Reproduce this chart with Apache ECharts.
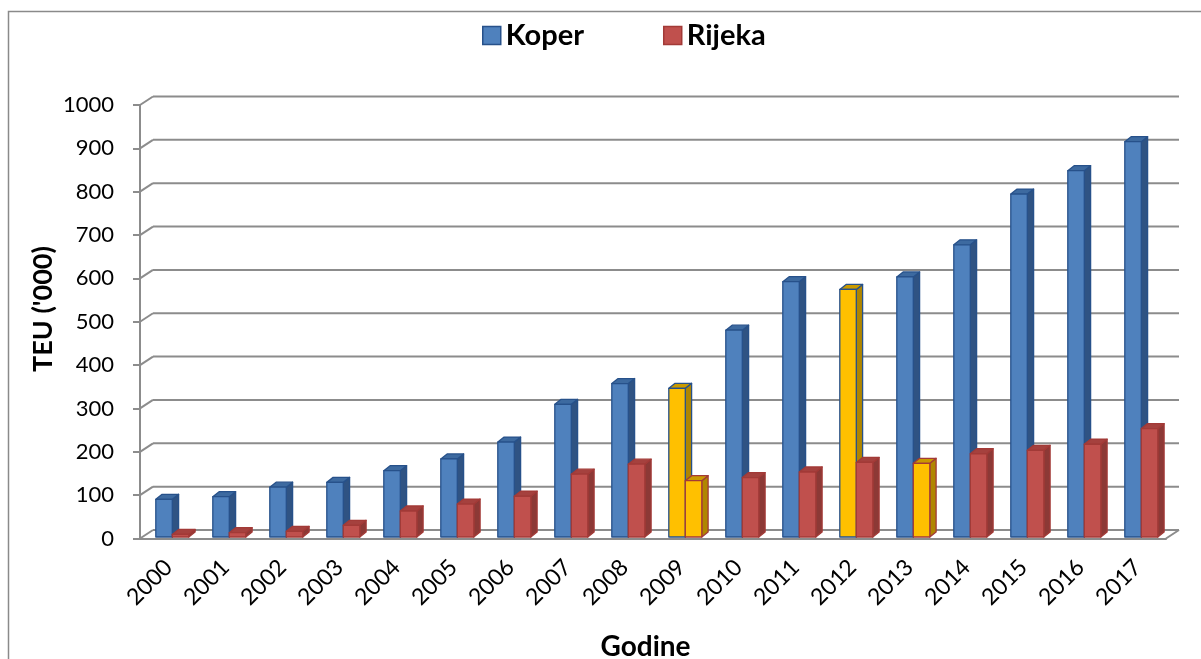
<!DOCTYPE html>
<html>
<head>
<meta charset="utf-8">
<script src="https://cdn.jsdelivr.net/npm/echarts@6/dist/echarts.min.js"></script>
<style>
  html, body { margin: 0; padding: 0; background: #fff; }
  #chart { width: 1201px; height: 659px; }
</style>
</head>
<body>
<div id="chart"></div>
<script>
const years = ['2000', '2001', '2002', '2003', '2004', '2005', '2006', '2007', '2008',
  '2009', '2010', '2011', '2012', '2013', '2014', '2015', '2016', '2017']
const koper = [87, 93, 115, 126, 153, 180, 219, 306, 354, 343, 477, 589, 571, 600, 674, 791, 845, 912]
const rijeka = [6, 10, 13, 27, 60, 76, 94, 145, 168, 130, 137, 150, 172, 170, 192, 200, 214, 250]
// years drawn in yellow
const koperHighlight = ['2009', '2012']
const rijekaHighlight = ['2009', '2013']
const yTicks = [0, 100, 200, 300, 400, 500, 600, 700, 800, 900, 1000]

const FONT = 'Lato'
const DX = 13, DY = -8.5      // depth of the back wall
const BDX = 6.3, BDY = -5     // depth of a bar
const BAR_W = 16.5
const GRID_LINE = '#8c8c8c'

const blue = { front: '#4F81BD', side: '#2F5383', top: '#3D6AA0', border: '#27518A' }
const red = { front: '#C0504D', side: '#8C3936', top: '#A5413E', border: '#A23A37' }
const yellow = { front: '#FFC000', side: '#B08600', top: '#C99A00' }

function barRenderer(offset, pal, highlight) {
  return function (params, api) {
    const i = api.value(0)
    const v = api.value(1)
    const base = api.coord([i, 0])
    const top = api.coord([i, v])
    const x0 = base[0] + offset
    const y0 = base[1] - 1.5
    const y1 = top[1] - 1.5
    const hl = highlight.indexOf(years[i]) >= 0
    const c = hl ? yellow : pal
    const stroke = { stroke: pal.border, lineWidth: 1.3, lineJoin: 'round' }
    return {
      type: 'group',
      children: [
        {
          type: 'polygon',
          shape: { points: [[x0 + BAR_W, y1], [x0 + BAR_W + BDX, y1 + BDY], [x0 + BAR_W + BDX, y0 + BDY], [x0 + BAR_W, y0]] },
          style: { fill: c.side, ...stroke },
        },
        {
          type: 'polygon',
          shape: { points: [[x0, y1], [x0 + BDX, y1 + BDY], [x0 + BAR_W + BDX, y1 + BDY], [x0 + BAR_W, y1]] },
          style: { fill: c.top, ...stroke },
        },
        {
          type: 'rect',
          shape: { x: x0, y: y1, width: BAR_W, height: y0 - y1 },
          style: { fill: c.front, ...stroke },
        },
      ],
    }
  }
}

function frameRenderer(params, api) {
  const v = api.value(1)
  const band = api.size([1, 0])[0]
  const l = api.coord([0, v])
  const r = api.coord([years.length - 1, v])
  const xl = l[0] - band / 2
  const xr = r[0] + band / 2
  const y = l[1]
  const style = { stroke: GRID_LINE, lineWidth: 2 }
  const children = [
    { type: 'line', shape: { x1: xl, y1: y, x2: xl + DX, y2: y + DY }, style },
    { type: 'line', shape: { x1: xl + DX, y1: y + DY, x2: xr + DX, y2: y + DY }, style },
  ]
  if (v === 0) {
    children.push({ type: 'line', shape: { x1: xr, y1: y, x2: xr + DX, y2: y + DY }, style })
  }
  return { type: 'group', children }
}

const chart = echarts.init(document.getElementById('chart'))

chart.setOption({
  backgroundColor: '#fff',
  animation: false,
  textStyle: { fontFamily: FONT },
  grid: { left: 140, right: 35, top: 105, bottom: 120.5 },
  legend: {
    left: 482,
    top: 21,
    padding: 0,
    itemWidth: 18,
    itemHeight: 18,
    itemGap: 79,
    icon: 'rect',
    textStyle: { fontFamily: FONT, fontSize: 29, fontWeight: 'bold', color: '#000' },
    data: [
      { name: 'Koper', itemStyle: { color: blue.front, borderColor: blue.border, borderWidth: 1.5 } },
      { name: 'Rijeka', itemStyle: { color: red.front, borderColor: red.border, borderWidth: 1.5 } },
    ],
  },
  xAxis: {
    type: 'category',
    data: years,
    axisLine: { lineStyle: { color: GRID_LINE, width: 2 } },
    axisTick: { length: 7, lineStyle: { color: GRID_LINE, width: 2 } },
    axisLabel: { rotate: 45, margin: 25, fontSize: 23, color: '#000', fontFamily: FONT },
    splitLine: { show: false },
  },
  yAxis: {
    type: 'value',
    min: 0,
    max: 1000,
    interval: 100,
    axisLine: { show: true, lineStyle: { color: GRID_LINE, width: 2 } },
    axisTick: { show: true, length: 7, lineStyle: { color: GRID_LINE, width: 2 } },
    axisLabel: { margin: 26, fontSize: 22, color: '#000', fontFamily: FONT, formatter: v => String(v) },
    splitLine: { show: false },
  },
  graphic: [
    {
      type: 'rect',
      shape: { x: 8.5, y: 11.5, width: 1300, height: 800 },
      style: { fill: 'none', stroke: '#8a8a8a', lineWidth: 1.5 },
      silent: true,
    },
    {
      type: 'text',
      x: 43,
      y: 309,
      rotation: Math.PI / 2,
      style: { text: "TEU ('000)", font: 'bold 27px Lato', fill: '#000', align: 'center', verticalAlign: 'middle' },
    },
    {
      type: 'text',
      x: 645.5,
      y: 647,
      style: { text: 'Godine', font: 'bold 28px Lato', fill: '#000', align: 'center', verticalAlign: 'middle' },
    },
  ],
  series: [
    {
      type: 'custom',
      name: 'frame',
      z: 1,
      clip: false,
      silent: true,
      renderItem: frameRenderer,
      data: yTicks.map(v => [0, v]),
    },
    {
      type: 'custom',
      name: 'Koper',
      z: 2,
      clip: false,
      itemStyle: { color: blue.front },
      renderItem: barRenderer(-12.7, blue, koperHighlight),
      encode: { x: 0, y: 1 },
      data: koper.map((v, i) => [i, v]),
    },
    {
      type: 'custom',
      name: 'Rijeka',
      z: 3,
      clip: false,
      itemStyle: { color: red.front },
      renderItem: barRenderer(-12.7 + BAR_W, red, rijekaHighlight),
      encode: { x: 0, y: 1 },
      data: rijeka.map((v, i) => [i, v]),
    },
  ],
})
</script>
</body>
</html>
